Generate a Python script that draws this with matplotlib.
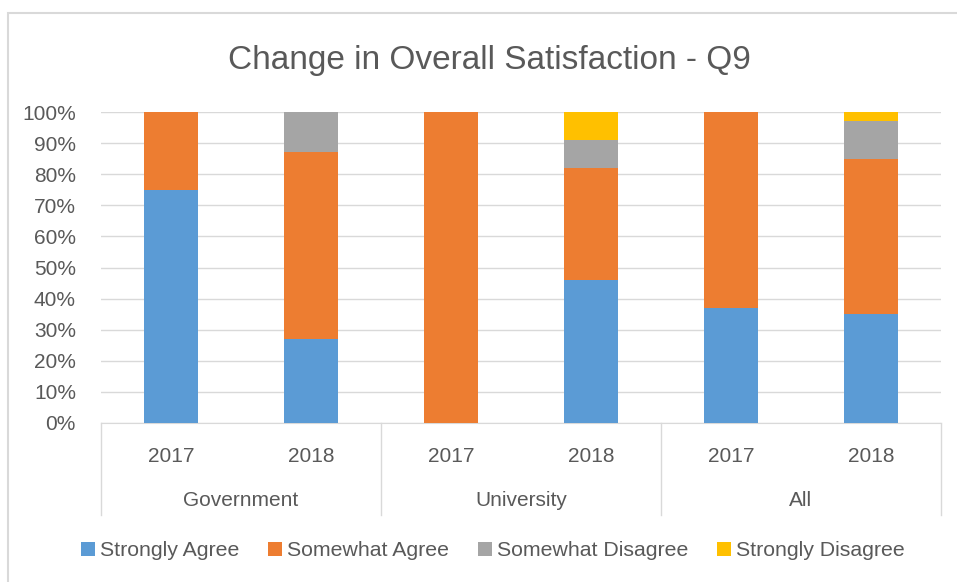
import numpy as np
import matplotlib.pyplot as plt
from matplotlib.patches import Rectangle

plt.rcParams['font.family'] = ['Liberation Sans', 'DejaVu Sans']

# Datos del gráfico
groups = ['Government', 'University', 'All']
years = ['2017', '2018', '2017', '2018', '2017', '2018']
series = ['Strongly Agree', 'Somewhat Agree', 'Somewhat Disagree', 'Strongly Disagree']
strongly_agree = [75, 27, 0, 46, 37, 35]
somewhat_agree = [25, 60, 100, 36, 63, 50]
somewhat_disagree = [0, 13, 0, 9, 0, 12]
strongly_disagree = [0, 0, 0, 9, 0, 3]
colors = ['#5b9bd5', '#ed7d31', '#a5a5a5', '#ffc000']

txt = '#595959'
grid = '#d9d9d9'

fig = plt.figure(figsize=(9.57, 5.82), dpi=100)
W, H = 957, 582
ax = fig.add_axes([101 / W, (H - 423) / H, 840 / W, 311 / H])

# Marco exterior del gráfico (se sale por la derecha y por abajo)
fig.patches.append(Rectangle((8 / W, -0.1), 1.0, (H - 13) / H + 0.1, transform=fig.transFigure,
                             fill=False, edgecolor=grid, lw=1.5))

x = np.arange(len(years))
bottom = np.zeros(len(years))
for name, vals, c in zip(series, [strongly_agree, somewhat_agree, somewhat_disagree, strongly_disagree], colors):
    ax.bar(x, vals, 0.39, bottom=bottom, color=c, label=name, zorder=3)
    bottom += np.array(vals)

ax.set_xlim(-0.5, len(years) - 0.5)
ax.set_ylim(0, 100)
ax.set_yticks(np.arange(0, 101, 10))
ax.set_yticklabels([f'{v}%' for v in range(0, 101, 10)], color=txt, fontsize=15)
ax.yaxis.grid(True, color=grid, lw=1, zorder=0)
ax.tick_params(axis='y', length=0, pad=18)
for s in ['top', 'right', 'left']:
    ax.spines[s].set_visible(False)
ax.spines['bottom'].set_color(grid)

ax.set_xticks(x)
ax.set_xticklabels(years, color=txt, fontsize=15)
ax.tick_params(axis='x', length=0, pad=17)

# Separadores y etiquetas de grupo
for k in range(len(groups) + 1):
    xs = 2 * k - 0.5
    ax.plot([xs, xs], [0, -29.5], color=grid, lw=1, clip_on=False)
for k, g in enumerate(groups):
    ax.text(2 * k + 0.5, -25, g, ha='center', va='center', color=txt, fontsize=15)

fig.text(489 / W, 1 - 60 / H, 'Change in Overall Satisfaction - Q9', ha='center', va='center',
         color=txt, fontsize=24)

fig.legend(loc='center', bbox_to_anchor=(493 / W, 1 - 551 / H), ncol=4, frameon=False,
           fontsize=15.3, handlelength=0.65, handleheight=0.65, handletextpad=0.25,
           columnspacing=1.35, labelcolor=txt)

fig.savefig('out.png', dpi=100)
